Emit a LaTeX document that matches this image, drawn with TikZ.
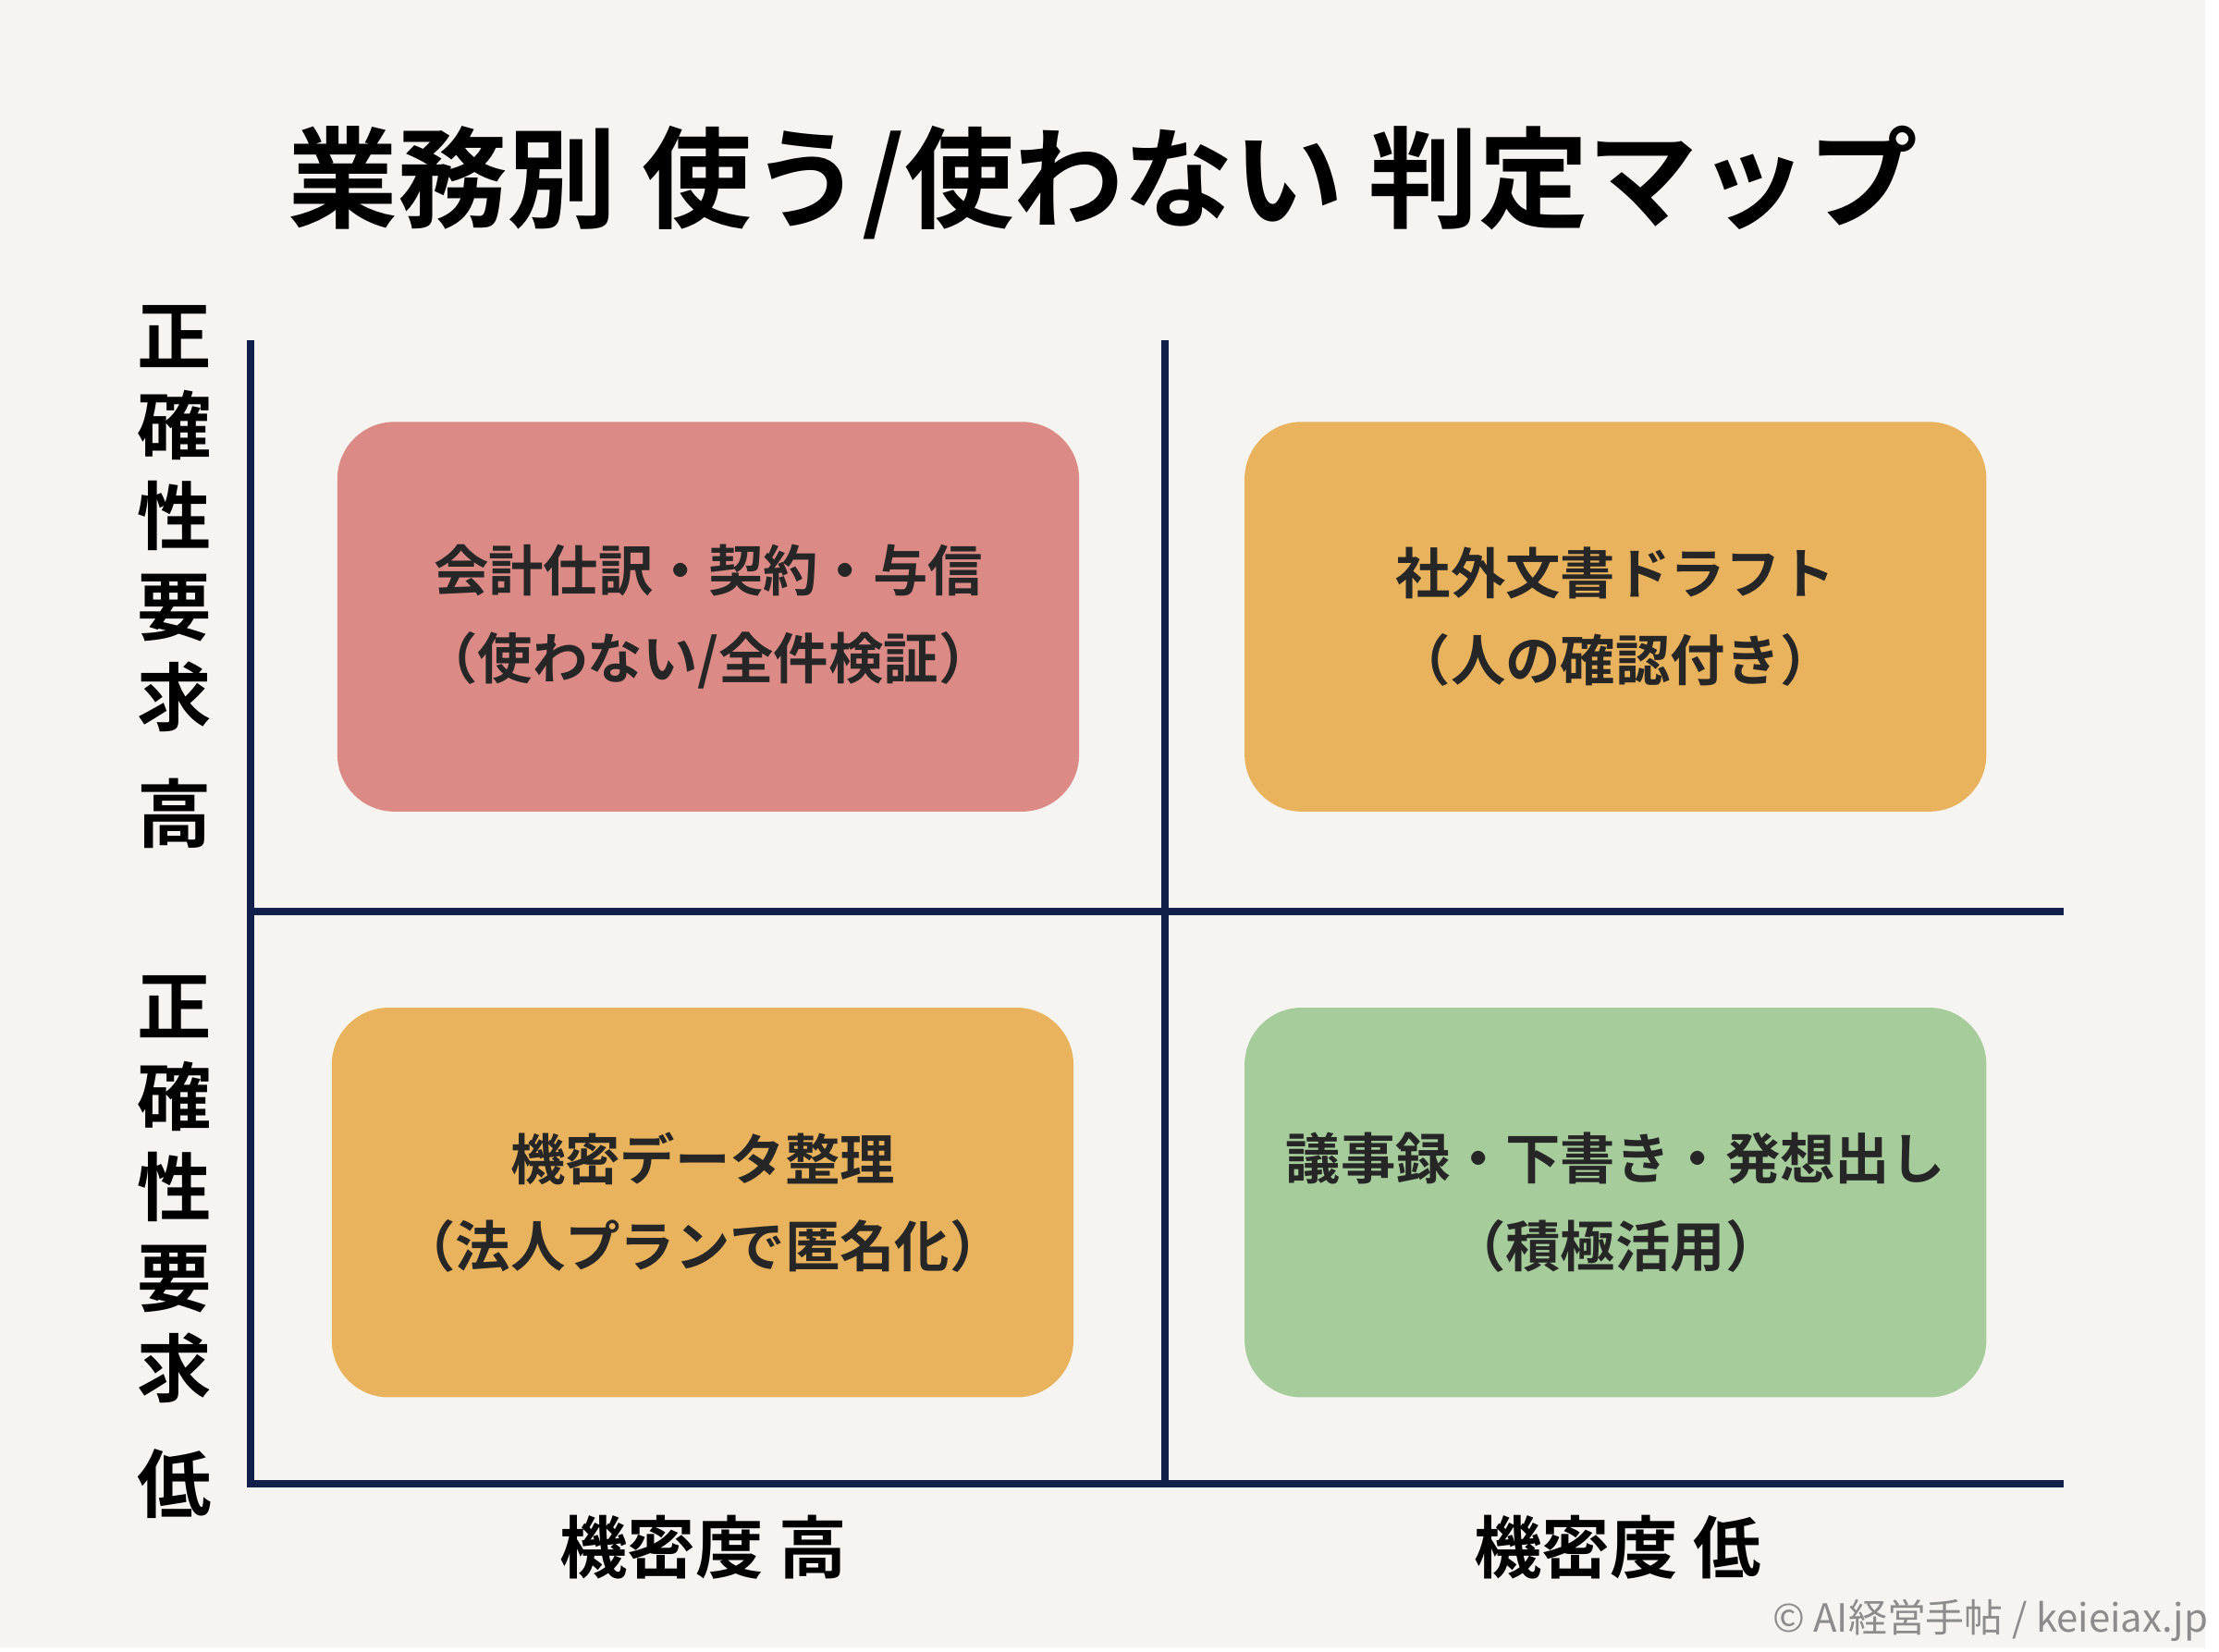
\documentclass[tikz,border=0pt]{standalone}
\usepackage{fontspec}
\setmainfont{Noto Sans CJK JP}[BoldFont={Noto Sans CJK JP Bold}]
\usetikzlibrary{positioning}
\definecolor{bgcol}{HTML}{F5F4F0}
\definecolor{axiscol}{HTML}{10204A}
\definecolor{redbox}{HTML}{DB8A85}
\definecolor{orangebox}{HTML}{E9B25C}
\definecolor{greenbox}{HTML}{A5CC9A}
\tikzset{
     cell/.style={fill=#1, rounded corners=0.62cm, minimum width=8.07cm, minimum height=4.24cm,
       align=center, font=\fontsize{17}{27}\selectfont\bfseries, text=black!85},
     axis/.style={draw=axiscol, line width=2.3pt},
     ylab/.style={align=center, font=\fontsize{23}{28}\selectfont\bfseries},
     xlab/.style={font=\fontsize{21}{25}\selectfont\bfseries},
}
\begin{document}
\begin{tikzpicture}[x=0.015306cm, y=-0.015306cm]
  \fill[bgcol] (0,0) rectangle (1568,1171);

  % title
  \node[font=\fontsize{34}{40}\selectfont\bfseries] (title) at (784,130) {業務別 使う/使わない 判定マップ};

  % axes
  \coordinate (top) at (178,242);
  \coordinate (origin) at (178,1055);
  \coordinate (xend) at (1467,1055);
  \coordinate (midtop) at (828,242);
  \coordinate (midbot) at (828,1055);
  \coordinate (midleft) at (178,648);
  \coordinate (midright) at (1467,648);
  \draw[axis] (top) -- (origin) -- (xend);
  \draw[axis] (midtop) -- (midbot);
  \draw[axis] (midleft) -- (midright);

  % quadrants
  \node[cell=redbox] (hh) at (503.5,438.5) {会計仕訳・契約・与信\\（使わない/全件検証）};
  \node[cell=orangebox] (hl) at (1148.5,438.5) {社外文書ドラフト\\（人の確認付き）};
  \node[cell=orangebox] (lh) at (499.5,855) {機密データ整理\\（法人プランで匿名化）};
  \node[cell=greenbox] (ll) at (1148.5,855) {議事録・下書き・発想出し\\（積極活用）};

  % axis labels
  \node[ylab] (yhigh) at (124,410) {正\\確\\性\\要\\求\\[8pt]高};
  \node[ylab] (ylow) at (124,887) {正\\確\\性\\要\\求\\[8pt]低};
  \node[xlab] (xhigh) at (500,1100) {機密度 高};
  \node[xlab] (xlow) at (1150,1100) {機密度 低};

  \node[font=\fontsize{12}{14}\selectfont, text=black!45] (credit) at (1415,1152) {© AI経営手帖 / keieiax.jp};
\end{tikzpicture}
\end{document}
